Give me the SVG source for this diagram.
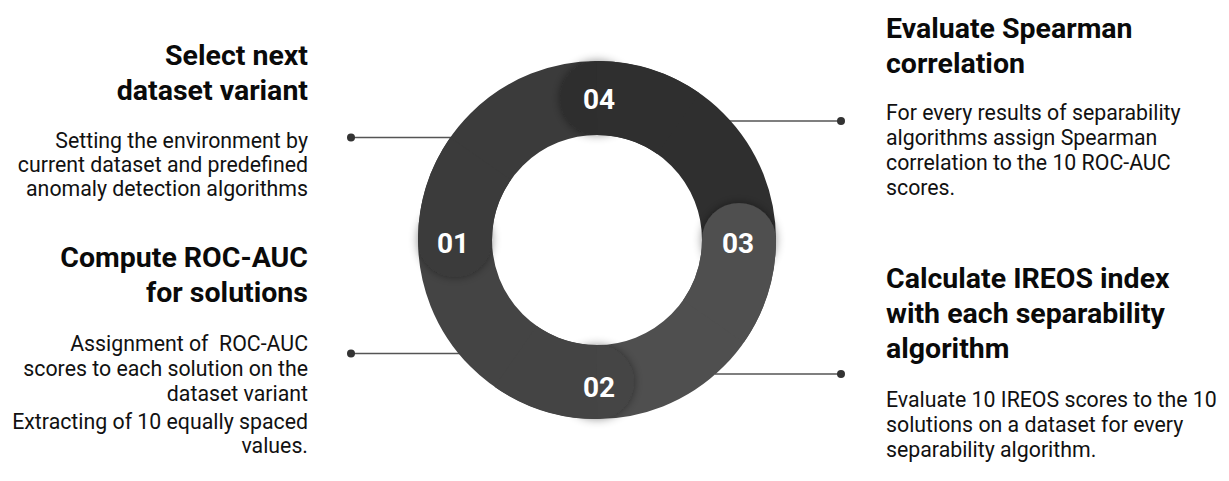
<svg xmlns="http://www.w3.org/2000/svg" width="1229" height="481" viewBox="0 0 1229 481">
<style>
.t{font-family:Roboto,"Liberation Sans",sans-serif;font-weight:700;font-size:28.5px;fill:#0a0a0a}
.b{font-family:Roboto,"Liberation Sans",sans-serif;font-weight:400;font-size:21.3px;fill:#111}
.r{text-anchor:end}
.n{font-family:Roboto,"Liberation Sans",sans-serif;font-weight:700;font-size:28px;fill:#fff;text-anchor:middle}
.seg{fill:none;stroke-width:74;stroke-linecap:butt}
.ln{stroke:#555;stroke-width:1.5;fill:none}
.dot{fill:#333}
</style>
<defs>
<filter id="sh" x="-50%" y="-50%" width="200%" height="200%">
<feDropShadow dx="0" dy="0" stdDeviation="5" flood-color="#000" flood-opacity="0.45"/>
</filter>
</defs>
<rect width="1229" height="481" fill="#fff"/>
<g id="connectors">
<line class="ln" x1="351" y1="137.5" x2="452" y2="137.5"/><circle class="dot" cx="351" cy="137.5" r="4"/>
<line class="ln" x1="351" y1="353.5" x2="460" y2="353.5"/><circle class="dot" cx="351" cy="353.5" r="4"/>
<line class="ln" x1="728" y1="121" x2="841" y2="121"/><circle class="dot" cx="841" cy="121" r="4"/>
<line class="ln" x1="715" y1="374" x2="841" y2="374"/><circle class="dot" cx="841" cy="374" r="4"/>
</g>
<g id="ring">
<path class="seg" stroke="#2f2f2f" d="M597,98 A142,142 0 0 1 739,240"/>
<path class="seg" stroke="#4f4f4f" d="M739,240 A142,142 0 0 1 597,382"/>
<path class="seg" stroke="#444444" d="M597,382 A142,142 0 0 1 455,240"/>
<path class="seg" stroke="#3b3b3b" d="M455,240 A142,142 0 0 1 597,98"/>
<circle cx="597" cy="98" r="37" fill="#2f2f2f" filter="url(#sh)"/>
<path class="seg" stroke="#2f2f2f" d="M597,98 A142,142 0 0 1 678.4,123.6"/>
<circle cx="739" cy="240" r="37" fill="#4f4f4f" filter="url(#sh)"/>
<path class="seg" stroke="#4f4f4f" d="M739,240 A142,142 0 0 1 713.4,321.4"/>
<circle cx="597" cy="382" r="37" fill="#444444" filter="url(#sh)"/>
<path class="seg" stroke="#444444" d="M597,382 A142,142 0 0 1 515.6,356.4"/>
<circle cx="455" cy="240" r="37" fill="#3b3b3b" filter="url(#sh)"/>
<path class="seg" stroke="#3b3b3b" d="M455,240 A142,142 0 0 1 480.6,158.6"/>
</g>
<g id="step01">
<text class="n" x="453" y="253">01</text>
<text class="t r" x="308" y="65">Select next</text>
<text class="t r" x="308" y="100">dataset variant</text>
<text class="b r" x="308" y="148">Setting the environment by</text>
<text class="b r" x="308" y="172">current dataset and predefined</text>
<text class="b r" x="308" y="196">anomaly detection algorithms</text>
</g>
<g id="step02">
<text class="n" x="599" y="397">02</text>
<text class="t r" x="308" y="267">Compute ROC-AUC</text>
<text class="t r" x="308" y="302">for solutions</text>
<text class="b r" x="308" y="351" xml:space="preserve">Assignment of  ROC-AUC</text>
<text class="b r" x="308" y="376">scores to each solution on the</text>
<text class="b r" x="308" y="401">dataset variant</text>
<text class="b r" x="308" y="429">Extracting of 10 equally spaced</text>
<text class="b r" x="308" y="453">values.</text>
</g>
<g id="step03">
<text class="n" x="738" y="253">03</text>
<text class="t" x="886" y="288">Calculate IREOS index</text>
<text class="t" x="886" y="323">with each separability</text>
<text class="t" x="886" y="358">algorithm</text>
<text class="b" x="886" y="407">Evaluate 10 IREOS scores to the 10</text>
<text class="b" x="886" y="432">solutions on a dataset for every</text>
<text class="b" x="886" y="457">separability algorithm.</text>
</g>
<g id="step04">
<text class="n" x="599" y="109">04</text>
<text class="t" x="886" y="38">Evaluate Spearman</text>
<text class="t" x="886" y="73">correlation</text>
<text class="b" x="886" y="120">For every results of separability</text>
<text class="b" x="886" y="145">algorithms assign Spearman</text>
<text class="b" x="886" y="170">correlation to the 10 ROC-AUC</text>
<text class="b" x="886" y="195">scores.</text>
</g>
</svg>
